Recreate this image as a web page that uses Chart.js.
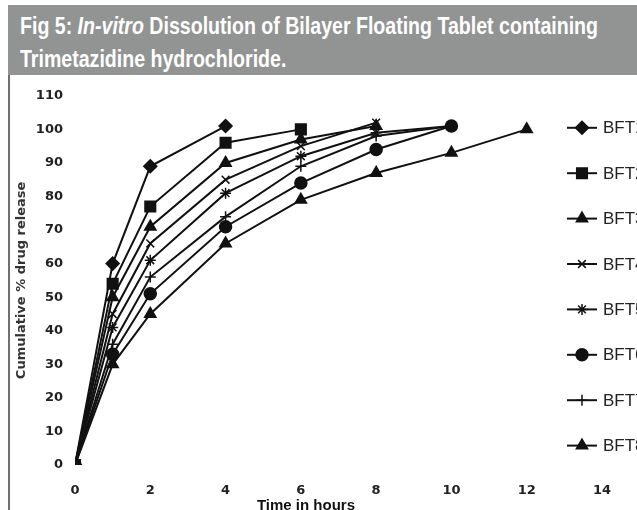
<!DOCTYPE html>
<html>
<head>
<meta charset="utf-8">
<script src="https://cdn.jsdelivr.net/npm/chart.js@4.4.0/dist/chart.umd.min.js"></script>
<style>
  html, body { margin: 0; padding: 0; width: 637px; height: 510px; overflow: hidden; background: #fff; }
  #banner {
    position: absolute; left: 8px; top: 5px; width: 629px; height: 70px; overflow: hidden;
    background: #929493; color: #fff; box-sizing: border-box; padding: 4px 0 0 12px;
    font-family: "Liberation Sans", Arial, sans-serif;
    font-weight: bold; font-size: 24px; line-height: 33px; white-space: nowrap;
  }
  #banner span { display: inline-block; transform-origin: 0 50%; }
  #edge { position: absolute; left: 8px; top: 75px; width: 2px; height: 435px; background: #707070; }
  #wrap { position: absolute; left: 10px; top: 76px; width: 680px; height: 445px; }
</style>
</head>
<body>
<div id="banner"><span id="line1">Fig 5: <i>In-vitro</i> Dissolution of Bilayer Floating Tablet containing</span><br><span id="line2">Trimetazidine hydrochloride.</span></div>
<div id="edge"></div>
<div id="wrap"><canvas id="dissolutionChart" width="680" height="445"></canvas></div>
<script>
// sampling times (hours)
const hours = [0, 1, 2, 4, 6, 8, 10, 12];
const xTicks = [0, 2, 4, 6, 8, 10, 12, 14];
const formulations = ["BFT1", "BFT2", "BFT3", "BFT4", "BFT5", "BFT6", "BFT7", "BFT8"];

// cumulative % drug release
const bft1 = [0, 60, 89, 101];
const bft2 = [0, 54, 77, 96, 100];
const bft3 = [0, 50, 71, 90, 97, 101];
const bft4 = [0, 45, 66, 85, 95, 102];
const bft5 = [0, 41, 61, 81, 92, 99, 101];
const bft6 = [0, 33, 51, 71, 84, 94, 101];
const bft7 = [0, 36, 56, 74, 89, 98, 101];
const bft8 = [0, 30, 45, 66, 79, 87, 93, 100];

// the figure title uses a narrow bold face: squeeze the first line to its width
const line1 = document.getElementById("line1");
const squeeze = 578 / line1.getBoundingClientRect().width;
line1.style.transform = "scaleX(" + squeeze + ")";
document.getElementById("line2").style.transform = "scaleX(" + squeeze + ")";

const allSeries = [bft1, bft2, bft3, bft4, bft5, bft6, bft7, bft8];
const markers = ["rectRot", "rect", "triangle", "crossRot", "star", "circle", "cross", "triangle"];
const markerSizes = [6.5, 7.5, 6.5, 5.5, 5.5, 6, 5.5, 6.5];

const datasets = allSeries.map((values, i) => ({
  label: formulations[i],
  data: values.map((v, j) => ({ x: hours[j], y: v })),
  borderColor: "#111",
  backgroundColor: "#111",
  borderWidth: 2,
  pointStyle: markers[i],
  pointRadius: markerSizes[i],
  pointBorderWidth: 1.5,
  pointBackgroundColor: "#111",
  pointBorderColor: "#111",
  tension: 0
}));

// legend with a line through the marker, plus the x axis caption
const sideLegend = {
  id: "sideLegend",
  afterDraw(chart) {
    const ctx = chart.ctx;
    const area = chart.chartArea;
    ctx.save();
    chart.data.datasets.forEach((ds, i) => {
      const y = area.top + 32 + i * 45.4;
      const x0 = area.right - 35;
      ctx.strokeStyle = "#111";
      ctx.fillStyle = "#111";
      ctx.lineWidth = 2;
      ctx.beginPath();
      ctx.moveTo(x0, y);
      ctx.lineTo(x0 + 30, y);
      ctx.stroke();
      ctx.lineWidth = 1.5;
      Chart.helpers.drawPoint(ctx, {
        pointStyle: ds.pointStyle, radius: ds.pointRadius, borderWidth: 1.5, rotation: 0
      }, x0 + 15, y);
      ctx.fillStyle = "#222";
      ctx.font = "17px 'Liberation Sans', Arial, sans-serif";
      ctx.textBaseline = "middle";
      ctx.textAlign = "left";
      ctx.fillText(ds.label, area.right + 1, y + 1);
    });
    ctx.fillStyle = "#111";
    ctx.font = "bold 15px 'Liberation Sans', Arial, sans-serif";
    ctx.textAlign = "center";
    ctx.textBaseline = "alphabetic";
    ctx.fillText("Time in hours", 296, 434);
    ctx.restore();
  }
};

new Chart(document.getElementById("dissolutionChart"), {
  type: "line",
  data: { datasets },
  plugins: [sideLegend],
  options: {
    responsive: false,
    animation: false,
    layout: { padding: { top: 17, right: 88, bottom: 0, left: 0 } },
    plugins: {
      legend: { display: false },
      tooltip: { enabled: false }
    },
    scales: {
      x: {
        type: "linear",
        min: 0,
        max: 14,
        afterFit: scale => { scale.height = 56; },
        afterBuildTicks: scale => { scale.ticks = xTicks.map(v => ({ value: v })); },
        grid: { display: false, drawTicks: false },
        border: { display: false },
        ticks: {
          padding: 18,
          color: "#222",
          font: { family: "'DejaVu Sans', sans-serif", size: 13, weight: "bold" }
        }
      },
      y: {
        min: 0,
        max: 110,
        afterFit: scale => { scale.width = 65; },
        grid: { display: false, drawTicks: false },
        border: { display: false },
        ticks: {
          stepSize: 10,
          padding: 12,
          color: "#222",
          font: { family: "'DejaVu Sans', sans-serif", size: 13, weight: "bold" }
        },
        title: {
          display: true,
          text: "Cumulative % drug release",
          color: "#333",
          padding: { top: 4, bottom: 0 },
          font: { family: "'DejaVu Sans', sans-serif", size: 13, weight: "bold" }
        }
      }
    }
  }
});
</script>
</body>
</html>
